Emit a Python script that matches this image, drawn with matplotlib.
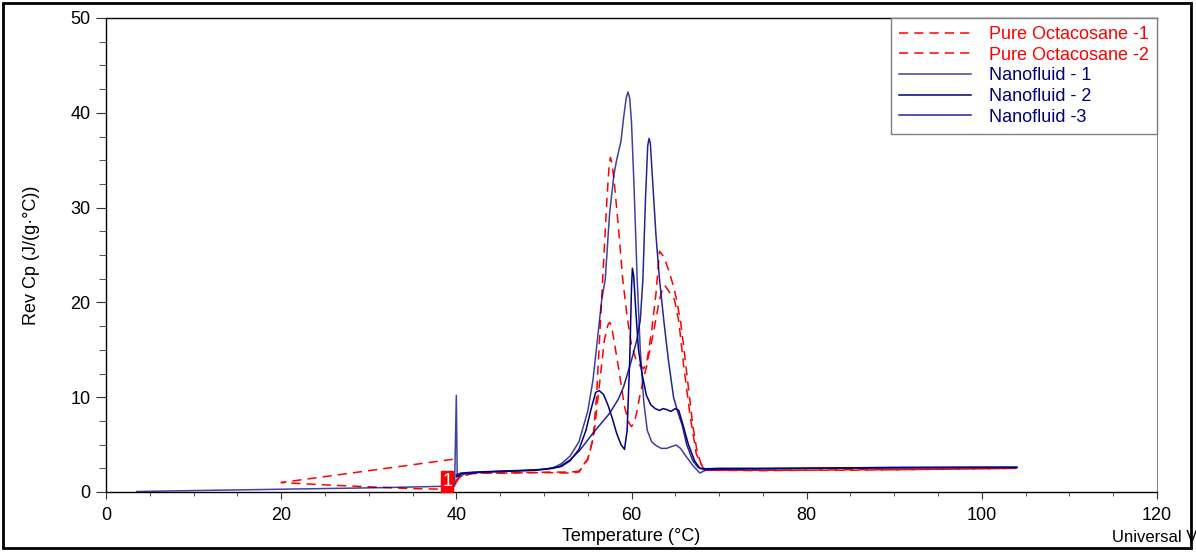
import matplotlib
matplotlib.use("Agg")
import matplotlib.pyplot as plt
from matplotlib.patches import Rectangle
from matplotlib.ticker import MultipleLocator

plt.rcParams['font.family'] = ['Liberation Sans', 'DejaVu Sans']

# Pure Octacosane -1 (red dashed)
t_oct1 = [39.6, 20.0, 25, 30, 35, 38.5, 39.8, 40.0, 40.5, 42, 45, 48, 51, 53, 54, 55, 55.6, 56.0, 56.4,
          56.8, 57.2, 57.45, 57.6, 57.8, 58.0, 58.5, 59.0, 59.5, 60.0, 60.5, 61.0, 61.4, 61.8, 62.3, 62.8,
          63.2, 63.7, 64.2, 64.7, 65.1, 65.6, 66.0, 66.5, 67.0, 67.5, 68.0, 68.6, 70, 75, 80, 85, 90, 95,
          100, 104]
cp_oct1 = [3.45, 1.0, 0.75, 0.55, 0.35, 0.3, 0.3, 1.3, 1.6, 2.0, 2.0, 2.05, 2.1, 2.1, 2.2, 3.5, 5.5, 10, 17,
           24, 31, 34.5, 35.3, 34.5, 33, 28, 22.4, 18.5, 15.5, 14, 13.3, 13.0, 14, 17, 21,
           25.4, 24.8, 23.5, 22, 20.5, 18, 15, 11, 7, 4.2, 2.8, 2.3, 2.3, 2.3, 2.3, 2.35, 2.35, 2.4,
           2.45, 2.5]

# Pure Octacosane -2 (red dashed)
t_oct2 = [40.0, 40.3, 41, 43, 46, 50, 53, 54, 55, 55.7, 56.3, 56.9, 57.3, 57.5, 57.7, 58.0, 58.5, 59.2,
          59.7, 60.0, 60.3, 60.6, 61.0, 61.7, 62.5, 63.2, 63.6, 63.8, 64.1, 64.4, 64.9, 65.4, 66.0, 66.7,
          67.4, 68.2, 69, 75, 80, 85, 90, 95, 100, 104]
cp_oct2 = [1.0, 1.5, 1.9, 2.0, 2.0, 2.05, 2.0, 2.1, 3.4, 6.0, 11, 16, 17.6, 17.9, 17.6, 16, 13.2, 9.0,
           7.3, 6.9, 7.3, 8.4, 10.4, 13.2, 16.8, 20.3, 21.6, 21.8, 21.4, 21.0, 20.3, 18, 13, 8,
           4, 2.5, 2.3, 2.25, 2.3, 2.3, 2.35, 2.4, 2.45, 2.5]

# Nanofluid - 1
t_nf1 = [3.5, 10, 17, 24, 31, 38.5, 39.8, 40.0, 40.1, 41, 43, 46, 49, 51, 52, 53, 54, 55, 55.6, 56.1,
         56.6, 57.0, 57.5, 58.0, 58.3, 58.8, 59.1, 59.4, 59.6, 59.8, 60.0, 60.3, 60.65, 61.0, 61.4,
         61.8, 62.3, 62.8, 63.4, 64.0, 64.6, 65.1, 65.6, 66.2, 67.0, 67.8, 68.7, 70, 75, 80, 85, 90,
         95, 100, 104]
cp_nf1 = [0.05, 0.15, 0.25, 0.35, 0.45, 0.6, 0.6, 10.2, 1.6, 1.9, 2.1, 2.2, 2.3, 2.5, 3.0, 3.8, 5.3, 8.5,
          11.8, 16, 20.3, 22.4, 29.4, 33.5, 35, 37, 39.5, 41.6, 42.2, 41.5, 39, 32, 22.4, 15, 9.5,
          6.5, 5.3, 4.9, 4.6, 4.6, 4.8, 4.95, 4.6, 3.8, 2.8, 2.0, 2.4, 2.45, 2.45, 2.5, 2.55, 2.55,
          2.6, 2.6, 2.6]

# Nanofluid - 2
t_nf2 = [40.0, 40.5, 41, 43, 46, 49, 51, 52, 53, 54, 54.8, 55.4, 55.9, 56.3, 56.8, 57.3, 57.8, 58.3,
         58.8, 59.2, 59.5, 59.8, 60.0, 60.1, 60.25, 60.5, 60.8, 61.2, 61.7, 62.2, 62.7, 63.2, 63.6,
         64.0, 64.5, 65.0, 65.4, 65.9, 66.5, 67.2, 67.8, 68.6, 70, 75, 80, 85, 90, 95, 100, 104]
cp_nf2 = [1.6, 1.9, 2.0, 2.1, 2.2, 2.3, 2.5, 2.7, 3.3, 4.5, 6.5, 8.8, 10.5, 10.7, 10.3, 9.2, 7.8, 6.2,
          5.0, 4.5, 6.5, 14, 21.5, 23.6, 22.8, 19, 15, 12.5, 10.2, 9.2, 8.8, 8.6, 8.8,
          8.7, 8.5, 8.8, 8.6, 7.0, 5.0, 3.3, 2.5, 2.45, 2.5, 2.5, 2.5, 2.55, 2.6, 2.6, 2.6, 2.6]

# Nanofluid -3
t_nf3 = [40.0, 40.5, 42, 45, 48, 50, 51.8, 53, 54.1, 55.6, 57.5, 58.5, 59.1, 60.0, 60.6, 61.0, 61.3,
         61.6, 61.85, 62.0, 62.15, 62.4, 62.8, 63.2, 63.7, 64.2, 64.8, 65.3, 65.8, 66.3, 67.0, 67.6,
         68.3, 70, 75, 80, 85, 90, 95, 100, 104]
cp_nf3 = [1.8, 2.0, 2.1, 2.2, 2.3, 2.4, 2.7, 3.4, 4.4, 6.2, 8.3, 9.8, 11.1, 13.9, 16, 18.1, 22.4,
          31, 36.5, 37.3, 36.8, 33, 27, 22.4, 18, 14, 10, 8.4, 7.0, 5.0, 3.3, 2.6,
          2.35, 2.4, 2.45, 2.5, 2.5, 2.55, 2.55, 2.6, 2.6]

red = '#ff0000'
navy = '#000080'

fig = plt.figure(figsize=(11.96, 5.54), dpi=100)
ax = fig.add_axes([106 / 1196, 1 - 492 / 554, (1157 - 106) / 1196, (492 - 18) / 554])

ax.plot(t_oct1, cp_oct1, color=red, lw=1.1, dashes=(6, 4), label='Pure Octacosane -1')
ax.plot(t_oct2, cp_oct2, color=red, lw=1.1, dashes=(6, 4), label='Pure Octacosane -2')
ax.plot(t_nf1, cp_nf1, color=navy, lw=1.1, alpha=0.75, label='Nanofluid - 1')
ax.plot(t_nf2, cp_nf2, color=navy, lw=1.1, label='Nanofluid - 2')
ax.plot(t_nf3, cp_nf3, color=navy, lw=1.1, alpha=0.85, label='Nanofluid -3')

# marker "1"
ax.add_patch(Rectangle((38.3, 0), 1.3, 2.25, color=red, zorder=5, clip_on=False))
ax.text(38.95, 1.1, '1', color='white', fontsize=13, ha='center', va='center', zorder=6)

ax.set_xlim(0, 120)
ax.set_ylim(0, 50)
ax.xaxis.set_major_locator(MultipleLocator(20))
ax.xaxis.set_minor_locator(MultipleLocator(5))
ax.yaxis.set_major_locator(MultipleLocator(10))
ax.yaxis.set_minor_locator(MultipleLocator(2.5))
ax.tick_params(axis='both', which='major', labelsize=13, color='#333333', direction='out')
ax.tick_params(axis='y', which='major', length=7, pad=4)
ax.tick_params(axis='y', which='minor', length=5, color='#333333')
ax.tick_params(axis='x', which='major', length=5, pad=6)
ax.tick_params(axis='x', which='minor', length=3, color='#333333')

ax.spines['right'].set_color('#888888')
for s in ['left', 'bottom', 'top']:
    ax.spines[s].set_linewidth(1.0)

ax.set_xlabel('Temperature (°C)', fontsize=13, labelpad=3)
ax.set_ylabel('Rev Cp (J/(g·°C))', fontsize=13, labelpad=22)

leg = ax.legend(loc='upper right', bbox_to_anchor=(1, 1), borderaxespad=0, fancybox=False,
                edgecolor='#808080', framealpha=1, fontsize=13, labelcolor='linecolor',
                handlelength=4.0, handletextpad=1.0, labelspacing=0.2, borderpad=0.45)
leg.get_frame().set_linewidth(1.0)

fig.text(1112 / 1196, 1 - 537 / 554, 'Universal V', fontsize=12, va='center', ha='left')

# outer border
fig.patches.append(Rectangle((3 / 1196, 6 / 554), 1188 / 1196, 545 / 554, transform=fig.transFigure,
                             facecolor='none', edgecolor='black', lw=2.0, zorder=11))

fig.savefig('out.png', dpi=100)
